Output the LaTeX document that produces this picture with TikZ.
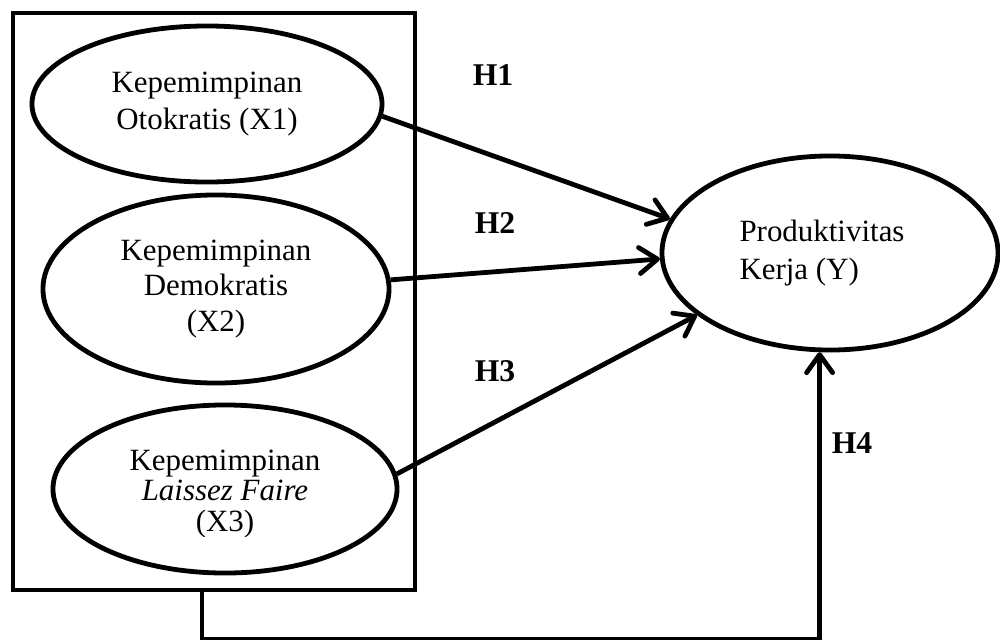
\documentclass[tikz,border=0pt]{standalone}
\usepackage{fontspec}
\setmainfont{Liberation Serif}
\usetikzlibrary{arrows.meta,shapes.geometric}

\begin{document}
\begin{tikzpicture}[x=0.025cm, y=-0.025cm,
  var/.style={draw, ellipse, line width=0.12cm, inner sep=0pt, align=center},
  hyp/.style={font=\fontsize{22.5}{26}\selectfont\bfseries},
  arr/.style={line width=0.12cm, -{Straight Barb[length=4.5mm, width=6.5mm, round]}}]
			%%%%% START %%%%%
			\useasboundingbox (0,0) rectangle (1000,639);
			
			\node[draw, line width=0.12cm, inner sep=0pt, minimum width=10.05cm, minimum height=14.425cm] (box) at (214,301.5) {};
			
			\node[var, minimum width=8.75cm, minimum height=3.9cm, font=\fontsize{22}{26.3}\selectfont] (x1) at (207,104) {Kepemimpinan\\Otokratis (X1)};
			\node[var, minimum width=8.65cm, minimum height=4.7cm, font=\fontsize{22}{25}\selectfont] (x2) at (216,289) {Kepemimpinan\\Demokratis\\(X2)};
			\node[var, minimum width=8.6cm, minimum height=4.2cm] (x3) at (225,489) {};
			\begin{scope}
				\clip (0,0) rectangle (1000,536);
				\node[align=center, font=\fontsize{22}{22}\selectfont] (x3txt) at (225,494) {Kepemimpinan\\\textit{Laissez Faire}\\(X3)};
			\end{scope}
			
			\node[var, align=left, minimum width=8.4cm, minimum height=4.85cm, font=\fontsize{22}{27}\selectfont] (y) at (830,253) {Produktivitas\hspace*{0.4cm}\\Kerja (Y)};
			
			\node[hyp] (h1) at (493,75) {H1};
			\node[hyp] (h2) at (495,223) {H2};
			\node[hyp] (h3) at (495,371) {H3};
			\node[hyp] (h4) at (852,443) {H4};
			
			\draw[arr] (x1.-4) -- (y.168);
			\draw[arr] (x2.3) -- (y.182);
			\draw[arr] (x3.5) -- (y.205);
			\draw[arr] ([xshift=-0.3cm]box.south) -- ++(0,47) -| (y.-96);
			
			%%%%% END %%%%%
\end{tikzpicture}
\end{document}
